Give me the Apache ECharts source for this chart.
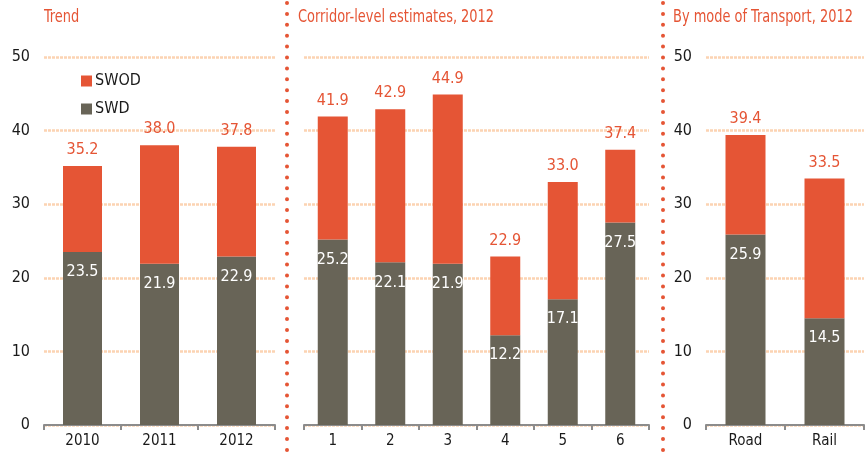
<!DOCTYPE html>
<html>
<head>
<meta charset="utf-8">
<script src="https://cdn.jsdelivr.net/npm/echarts@6/dist/echarts.min.js"></script>
<style>
  html, body { margin: 0; padding: 0; background: #fff; }
  #chart { width: 868px; height: 453px; }
</style>
</head>
<body>
<div id="chart"></div>
<script>
// Panel 1: trend by year
const trendCategories = ['2010', '2011', '2012'];
const trendSWD = [23.5, 21.9, 22.9];
const trendTotal = [35.2, 38.0, 37.8];

// Panel 2: corridor-level estimates, 2012
const corridorCategories = ['1', '2', '3', '4', '5', '6'];
const corridorSWD = [25.2, 22.1, 21.9, 12.2, 17.1, 27.5];
const corridorTotal = [41.9, 42.9, 44.9, 22.9, 33.0, 37.4];

// Panel 3: by mode of transport, 2012
const modeCategories = ['Road', 'Rail'];
const modeSWD = [25.9, 14.5];
const modeTotal = [39.4, 33.5];

const yTicks = [0, 10, 20, 30, 40, 50];

const ORANGE = '#e55535';
const GREY = '#686457';
const GRID_COLOR = '#fcd3b3';
const FONT = '"Liberation Sans Narrow", "DejaVu Sans Condensed", Arial, sans-serif';

// the SWOD segment sits on top of SWD and reaches the stated total
function swod(total, swd) {
  return total.map((t, i) => Math.round((t - swd[i]) * 10) / 10);
}

const panels = [
  { cats: trendCategories, swd: trendSWD, total: trendTotal, left: 44, width: 231, barWidth: 39, showY: true },
  { cats: corridorCategories, swd: corridorSWD, total: corridorTotal, left: 304, width: 345, barWidth: 30, showY: false },
  { cats: modeCategories, swd: modeSWD, total: modeTotal, left: 706, width: 158, barWidth: 40, showY: true }
];

const grid = [], xAxis = [], yAxis = [], series = [];
panels.forEach((p, i) => {
  grid.push({ left: p.left, width: p.width, top: 57, bottom: 28, containLabel: false });
  xAxis.push({
    type: 'category', gridIndex: i, data: p.cats,
    axisLine: { lineStyle: { color: '#8c8c8c', width: 2 } },
    axisTick: { show: true, length: 5, lineStyle: { color: '#8c8c8c', width: 2 } },
    axisLabel: { color: '#1a1a1a', fontSize: 15, fontFamily: FONT, margin: 9 }
  });
  yAxis.push({
    type: 'value', gridIndex: i, min: yTicks[0], max: yTicks[yTicks.length - 1], interval: 10,
    axisLine: { show: false }, axisTick: { show: false },
    axisLabel: { show: p.showY, color: '#1a1a1a', fontSize: 16, fontFamily: FONT, margin: 14 },
    splitLine: { show: true, lineStyle: { color: GRID_COLOR, width: 2.5, type: [3, 1] } }
  });
  const total = p.total;
  series.push({
    name: 'SWD', type: 'bar', stack: 's' + i, xAxisIndex: i, yAxisIndex: i,
    data: p.swd, barWidth: p.barWidth,
    itemStyle: { color: GREY },
    label: {
      show: true, position: 'insideTop', distance: 12, color: '#fff',
      fontSize: 16, fontFamily: FONT, formatter: (d) => d.value.toFixed(1)
    },
    z: 3
  });
  series.push({
    name: 'SWOD', type: 'bar', stack: 's' + i, xAxisIndex: i, yAxisIndex: i,
    data: swod(p.total, p.swd), barWidth: p.barWidth,
    itemStyle: { color: ORANGE },
    label: {
      show: true, position: 'top', distance: 8, color: ORANGE,
      fontSize: 16, fontFamily: FONT, formatter: (d) => total[d.dataIndex].toFixed(1)
    },
    z: 3
  });
});

// dotted vertical separators between the panels
function dottedLine(x) {
  return {
    type: 'line', silent: true,
    shape: { x1: x, y1: 3, x2: x, y2: 453 },
    style: { stroke: ORANGE, lineWidth: 4, lineCap: 'round', lineDash: [0, 10.9] }
  };
}
// panel headings, narrowed horizontally to a condensed look
function title(x, text) {
  return {
    type: 'text', silent: true, x: x, y: 8, scaleX: 0.8,
    style: { text: text, fill: ORANGE, font: '18px ' + FONT, textVerticalAlign: 'top' }
  };
}

const chart = echarts.init(document.getElementById('chart'), null, { renderer: 'canvas' });
chart.setOption({
  animation: false,
  backgroundColor: '#fff',
  textStyle: { fontFamily: FONT },
  grid: grid,
  xAxis: xAxis,
  yAxis: yAxis,
  legend: {
    data: ['SWOD', 'SWD'], orient: 'vertical', left: 76, top: 68,
    itemWidth: 11, itemHeight: 11, itemGap: 12, icon: 'rect',
    textStyle: { color: '#1a1a1a', fontSize: 16, fontFamily: FONT, padding: [0, 0, 0, -2] },
    selectedMode: false
  },
  series: series,
  graphic: [
    dottedLine(287), dottedLine(663),
    title(44, 'Trend'),
    title(298, 'Corridor-level estimates, 2012'),
    title(673, 'By mode of Transport, 2012')
  ]
});
</script>
</body>
</html>
